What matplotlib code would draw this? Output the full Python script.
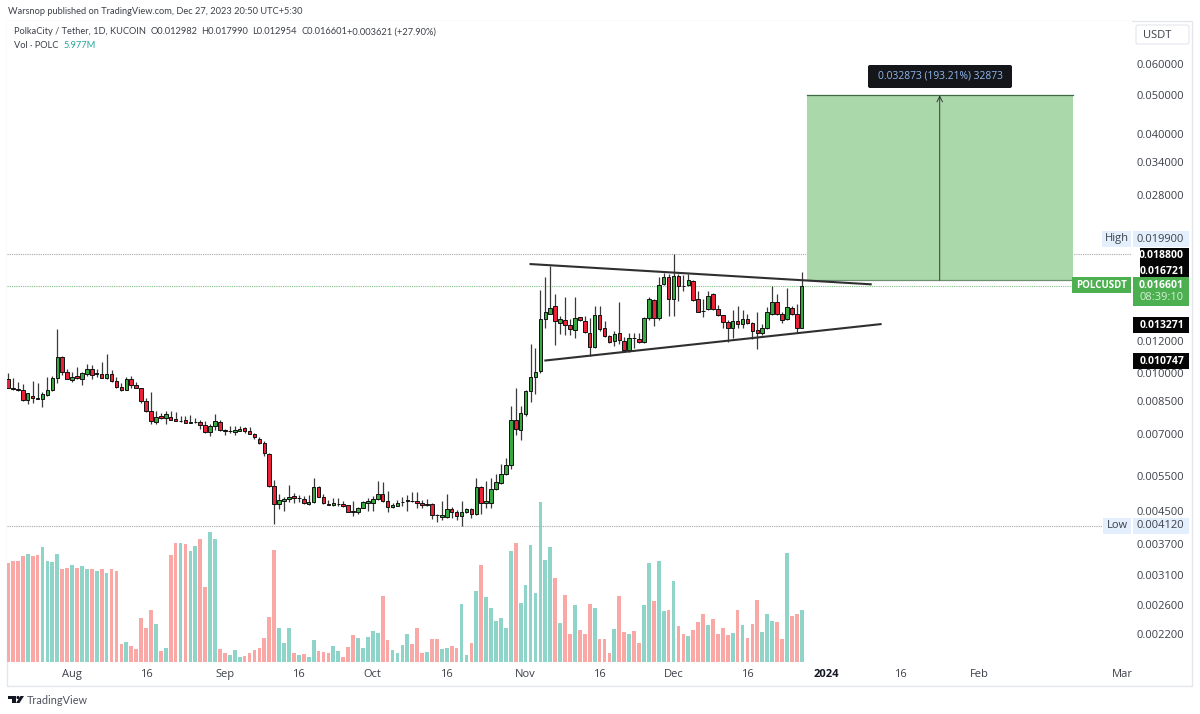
import matplotlib
matplotlib.use("Agg")
import matplotlib.pyplot as plt
import matplotlib.dates as mdates
import pandas as pd
from matplotlib.patches import Rectangle, FancyBboxPatch, Polygon, Circle
from matplotlib.transforms import Affine2D

plt.rcParams['font.family'] = ['Open Sans', 'DejaVu Sans']

# daily candles, price in 0.00001 USDT
start_date = '2023-07-19'
opens = [963,918,909,904,856,877,863,860,880,904,
         969,1098,1004,962,983,967,994,1026,996,996,
         969,992,952,921,907,963,935,918,849,804,
         752,778,771,775,764,756,760,747,752,754,
         741,709,735,754,720,712,710,716,725,713,
         700,683,666,625,520,467,475,480,490,484,
         482,468,473,516,487,467,464,467,468,464,
         448,446,457,469,471,480,495,477,459,463,
         472,477,477,477,470,466,467,439,433,434,
         453,446,435,446,453,440,516,470,471,510,
         527,555,585,760,720,790,900,975,1011,1368,
         1408,1472,1339,1359,1323,1282,1381,1354,1262,1159,
         1399,1298,1239,1201,1258,1203,1142,1224,1217,1196,
         1373,1527,1378,1673,1743,1536,1757,1660,1664,1703,
         1533,1436,1449,1577,1449,1396,1346,1295,1354,1328,
         1368,1336,1280,1258,1295,1408,1512,1405,1365,1456,
         1405,1298]
highs = [1002,973,950,939,888,954,941,897,978,983,
         1292,1104,1026,1004,1036,1008,1056,1048,1026,1068,
         1114,1016,978,941,978,985,950,918,866,895,
         804,794,801,801,798,778,778,783,769,763,
         756,744,786,763,723,735,737,735,731,731,
         707,690,673,627,538,495,486,521,498,493,
         490,493,543,520,495,478,485,485,475,466,
         475,460,475,485,489,533,530,505,469,478,
         488,493,500,500,478,481,469,442,477,495,
         460,451,475,458,458,545,520,535,545,556,
         591,610,827,914,825,904,1186,1155,1613,1743,
         1860,1577,1394,1551,1368,1551,1386,1394,1376,1472,
         1478,1354,1248,1272,1512,1234,1258,1258,1258,1386,
         1551,1536,1743,1788,1777,1990,1777,1760,1777,1710,
         1604,1536,1604,1589,1484,1401,1359,1443,1472,1443,
         1408,1346,1428,1328,1469,1660,1581,1421,1638,1478,
         1493,1799]
lows = [915,906,900,852,835,840,858,820,875,900,
        945,987,967,950,967,935,983,967,979,973,
        967,950,918,900,904,915,915,838,798,744,
        744,767,744,760,756,752,747,746,746,724,
        707,695,719,713,698,706,696,713,707,700,
        682,663,617,516,416,453,450,473,469,473,
        468,466,471,486,468,464,463,463,460,446,
        436,440,456,449,449,478,474,446,458,462,
        463,449,473,458,456,463,428,421,425,432,
        430,427,412,445,432,438,442,456,458,507,
        524,553,573,696,679,781,845,884,1001,1298,
        1408,1177,1253,1248,1248,1224,1354,1258,1104,1155,
        1275,1234,1191,1171,1182,1137,1126,1155,1187,1189,
        1359,1310,1359,1666,1394,1394,1521,1607,1656,1521,
        1421,1381,1443,1443,1394,1298,1198,1226,1295,1295,
        1328,1221,1148,1248,1290,1401,1401,1333,1359,1401,
        1258,1295]
closes = [918,909,908,856,888,863,860,884,904,969,
          1098,1006,967,979,971,1002,1026,990,998,973,
          992,952,921,907,963,935,918,849,804,756,
          775,771,786,763,757,758,748,754,753,738,
          709,737,758,719,713,713,720,724,713,703,
          688,666,627,519,467,478,481,487,485,485,
          470,472,516,488,469,466,470,468,463,447,
          447,457,472,475,481,495,477,459,464,471,
          473,478,476,469,464,467,438,438,439,453,
          446,436,446,453,440,516,471,475,510,531,
          555,585,763,722,794,900,979,1006,1368,1428,
          1458,1349,1368,1323,1288,1376,1363,1270,1159,1399,
          1288,1241,1196,1250,1212,1142,1224,1223,1196,1376,
          1539,1378,1664,1743,1536,1750,1653,1658,1713,1530,
          1424,1434,1564,1449,1399,1341,1295,1351,1328,1368,
          1336,1275,1260,1295,1428,1512,1408,1359,1464,1408,
          1295,1660]
# volume in millions of POLC
volumes = [11.43,11.73,11.73,12.27,12.55,12.27,12.43,13.36,11.73,11.54,
           12.55,10.73,10.92,11.19,10.92,11.12,10.73,10.73,10.54,10.73,
           10.27,10.73,10.54,2.08,2.35,1.81,1.54,5.10,3.90,6.02,
           4.36,1.27,1.66,12.35,13.74,13.74,13.63,12.89,13.47,14.28,
           8.72,15.02,14.28,1.54,1.08,0.81,1.35,0.62,0.73,1.00,
           1.35,1.66,2.82,5.17,13.01,3.98,2.24,3.94,1.08,0.81,
           0.89,0.54,2.55,1.27,1.20,1.00,1.89,1.27,0.62,1.74,
           3.09,2.82,1.66,2.93,3.55,3.36,7.64,2.55,1.35,1.00,
           2.01,3.20,2.08,3.94,1.08,1.16,2.62,2.62,1.54,1.62,
           1.81,1.62,6.68,0.81,2.24,8.22,11.23,7.53,6.21,4.79,
           5.13,3.94,12.85,13.78,6.87,8.96,13.59,7.95,18.53,11.77,
           13.32,9.69,4.52,7.76,3.24,6.60,3.71,3.24,6.68,6.21,
           2.62,2.62,1.04,3.78,7.60,3.51,3.24,3.59,2.24,6.60,
           11.50,7.06,11.70,5.87,6.06,9.42,4.13,3.24,2.97,3.71,
           4.59,5.52,4.25,4.98,3.24,3.98,3.13,3.36,5.98,4.25,
           2.78,4.40,7.14,3.44,5.52,4.79,4.67,2.70,12.62,5.33,
           5.52,5.977]

price_ticks = [0.06, 0.05, 0.04, 0.034, 0.028, 0.012, 0.01, 0.0085, 0.007,
               0.0055, 0.0045, 0.0037, 0.0031, 0.0026, 0.0022]
time_ticks = ['2023-08-01', '2023-08-16', '2023-09-01', '2023-09-16', '2023-10-01',
              '2023-10-16', '2023-11-01', '2023-11-16', '2023-12-01', '2023-12-16',
              '2024-01-01', '2024-01-16', '2024-02-01', '2024-03-01']
time_labels = ['Aug', '16', 'Sep', '16', 'Oct', '16', 'Nov', '16', 'Dec', '16',
               '2024', '16', 'Feb', 'Mar']

# drawings on the chart
high_price, low_price, last_price = 0.0199, 0.00412, 0.016601
upper_dates, upper_prices = ['2023-11-02', '2024-01-10'], [0.0188, 0.016721]
lower_dates, lower_prices = ['2023-11-05', '2024-01-12'], [0.010747, 0.013271]
target_dates, target_prices = ['2023-12-28', '2024-02-20'], [0.017127, 0.05]
arrow_date = '2024-01-24'

UP = '#35a83f'
DOWN = '#ea2238'
VOL_UP = '#8ed4c9'
VOL_DOWN = '#f9a8a6'
TEXT = '#3c4048'
num = lambda d: mdates.date2num(pd.Timestamp(d))

dates = mdates.date2num(pd.date_range(start_date, periods=len(opens)))
o = [v / 1e5 for v in opens]
h = [v / 1e5 for v in highs]
l = [v / 1e5 for v in lows]
c = [v / 1e5 for v in closes]

fig = plt.figure(figsize=(12, 7.14), dpi=100, facecolor='white')
# pixel coordinates of the picture, origin top left
px = Affine2D().scale(1, -1).translate(0, 714)

vol_ax = fig.add_axes([7 / 1200, 1 - 662 / 714, 1125 / 1200, 641 / 714])
ax = vol_ax.twinx()
vol_ax.set_zorder(1)
ax.set_zorder(2)
ax.patch.set_visible(False)

# volume along the bottom of the same pane
vol_colors = [VOL_UP if cc >= oo else VOL_DOWN for oo, cc in zip(opens, closes)]
vol_ax.bar(dates, volumes, width=0.76, color=vol_colors, linewidth=0)
vol_ax.set_ylim(0, 74.2)
vol_ax.set_yticks([])

# candles
candle_colors = [UP if cc >= oo else DOWN for oo, cc in zip(opens, closes)]
ax.vlines(dates, l, h, color='#3a3a3a', linewidth=0.9, zorder=3)
for x, oo, cc, col in zip(dates, o, c, candle_colors):
    ax.add_patch(Rectangle((x - 0.36, min(oo, cc)), 0.72, abs(cc - oo), facecolor=col,
                           edgecolor='#111111', linewidth=0.7, zorder=4))

ax.set_yscale('log')
ax.set_ylim(0.00187, 0.077)
ax.set_xlim(dates[0] - 0.2, dates[0] + 228)
ax.yaxis.set_minor_locator(matplotlib.ticker.NullLocator())
ax.set_yticks(price_ticks)
ax.set_yticklabels(['%.6f' % p for p in price_ticks], ha='right', color=TEXT, fontsize=8)
ax.yaxis.tick_right()
ax.tick_params(axis='y', length=0, pad=37.5)

vol_ax.set_xticks([num(d) for d in time_ticks])
vol_ax.set_xticklabels(time_labels, color=TEXT, fontsize=8)
vol_ax.tick_params(axis='x', length=0, pad=5)
for lab, txt in zip(vol_ax.get_xticklabels(), time_labels):
    if txt == '2024':
        lab.set_fontweight('bold')
        lab.set_color('#131722')
for a in (ax, vol_ax):
    for s in a.spines.values():
        s.set_visible(False)

# high / low / last price lines
ax.axhline(high_price, color='#a8a8a8', linewidth=0.8, linestyle=(0, (1, 1)), zorder=1)
ax.axhline(low_price, color='#a8a8a8', linewidth=0.8, linestyle=(0, (1, 1)), zorder=1)
ax.axhline(last_price, color='#7fbf82', linewidth=0.8, linestyle=(0, (1, 1)), zorder=1)

# target box with arrow
ax.add_patch(Rectangle((num(target_dates[0]), target_prices[0]),
                       num(target_dates[1]) - num(target_dates[0]),
                       target_prices[1] - target_prices[0],
                       facecolor='#aad8aa', edgecolor='none', zorder=2))
ax.plot([num(d) for d in target_dates], [target_prices[1]] * 2, color='#3f6b42', linewidth=0.9, zorder=3)
ax.plot([num(d) for d in target_dates], [target_prices[0]] * 2, color='#6f8f72', linewidth=0.9, zorder=3)
ax.annotate('', xy=(num(arrow_date), target_prices[1]), xytext=(num(arrow_date), target_prices[0]),
            arrowprops=dict(arrowstyle='->', color='#222222', linewidth=0.6, shrinkA=0, shrinkB=0), zorder=5)

# triangle
ax.plot([num(d) for d in upper_dates], upper_prices, color='#2f2f2f', linewidth=1.5, zorder=6)
ax.plot([num(d) for d in lower_dates], lower_prices, color='#2f2f2f', linewidth=1.5, zorder=6)


def box(x0, y0, x1, y1, color, rounded=False, edge='none'):
    if rounded:
        p = FancyBboxPatch((x0, y0), x1 - x0, y1 - y0, boxstyle='round,pad=0,rounding_size=2',
                           facecolor=color, edgecolor=edge, linewidth=0.8, transform=px, zorder=10)
    else:
        p = Rectangle((x0, y0), x1 - x0, y1 - y0, facecolor=color, edgecolor=edge, transform=px, zorder=10)
    fig.add_artist(p)


def label(x, y, s, color=TEXT, size=8, ha='left', weight='normal', family=None):
    fig.text(x, y, s, transform=px, color=color, fontsize=size, ha=ha, va='center',
             fontweight=weight, zorder=11, family=family or ['Open Sans', 'DejaVu Sans'])


# frame
frame = '#e4e6ec'
fig.add_artist(Rectangle((7, 21), 1185, 665, facecolor='none', edgecolor=frame, linewidth=1, transform=px, zorder=0))

# header
head = ['Lato', 'DejaVu Sans']
label(8, 11, 'Warsnop published on TradingView.com, Dec 27, 2023 20:50 UTC+5:30', size=6.7, family=head)
label(14, 32, 'PolkaCity / Tether, 1D, KUCOIN', size=6.7, family=head)
label(151, 32, 'O0.012982', size=6.7, family=head)
label(201, 32, 'H0.017990', size=6.7, family=head)
label(252, 32, 'L0.012954', size=6.7, family=head)
label(302, 32, 'C0.016601', size=6.7, family=head)
label(347, 32, '+0.003621 (+27.90%)', size=6.7, family=head)
label(14, 45, 'Vol · POLC', size=6.7, family=head)
label(64, 45, '5.977M', color='#26a69a', size=6.7, family=head)

box(1136, 25, 1189, 44, 'white', rounded=True, edge=frame)
label(1143, 35, 'USDT', size=8)

# measure label
box(868, 65, 1012, 88, '#14161a', rounded=True)
label(940, 76.5, '0.032873 (193.21%) 32873', color='#8fb8ee', size=7.4, ha='center')

# price scale labels
box(1102, 231, 1131, 247, '#e3effd')
label(1116.5, 239, 'High', ha='center')
box(1133, 231, 1189, 247, '#e3effd')
label(1184, 239, '0.019900', ha='right')
box(1140, 248, 1189, 278, '#050505')
label(1184, 255, '0.018800', color='white', ha='right', weight='bold', size=7.5)
label(1184, 271, '0.016721', color='white', ha='right', weight='bold', size=7.5)
box(1072, 277, 1131, 293, '#4caf50')
label(1101.5, 285.5, 'POLCUSDT', color='white', ha='center', weight='bold', size=7)
box(1133, 277, 1189, 306, '#4caf50')
label(1184, 286, '0.016601', color='white', ha='right', weight='bold', size=7.5)
label(1184, 298, '08:39:10', color='#d6efd7', ha='right')
box(1133, 317, 1189, 333, '#050505')
label(1184, 325, '0.013271', color='white', ha='right', weight='bold', size=7.5)
box(1133, 353, 1189, 369, '#050505')
label(1184, 361, '0.010747', color='white', ha='right', weight='bold', size=7.5)
box(1103, 518, 1131, 534, '#e3effd')
label(1117, 526, 'Low', ha='center')
box(1133, 518, 1189, 534, '#e3effd')
label(1184, 526, '0.004120', ha='right')

# TradingView mark
logo = '#131722'
fig.add_artist(Polygon([(8, 696), (15.5, 696), (15.5, 703), (11.5, 703), (11.5, 699), (8, 699)],
                       facecolor=logo, edgecolor='none', transform=px, zorder=10))
fig.add_artist(Circle((18, 697.5), 1.6, facecolor=logo, edgecolor='none', transform=px, zorder=10))
fig.add_artist(Polygon([(20.5, 696), (24, 696), (19.5, 703), (16, 703)],
                       facecolor=logo, edgecolor='none', transform=px, zorder=10))
label(26.5, 700, 'TradingView', color='#50535e', size=7.8, family=head)

fig.savefig('out.png', dpi=100)
